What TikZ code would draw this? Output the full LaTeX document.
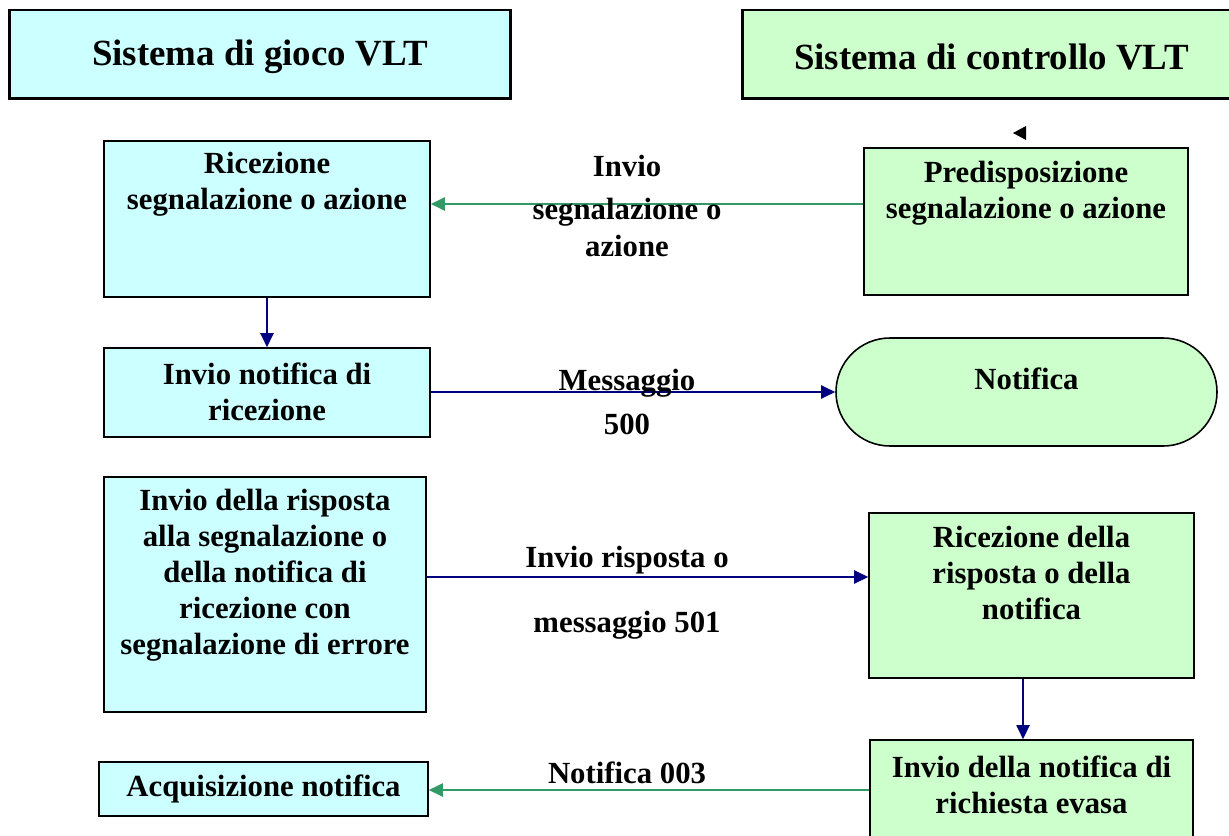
\documentclass[tikz,border=0pt]{standalone}
\usepackage{fontspec}
\setmainfont{Liberation Serif}
\usetikzlibrary{arrows.meta,positioning,fit}
\definecolor{vltcyan}{HTML}{CCFFFF}
\definecolor{vltgreen}{HTML}{CCFFCC}
\definecolor{msgblue}{HTML}{000080}
\definecolor{msggreen}{HTML}{339966}
\begin{document}
\begin{tikzpicture}[x=0.02cm, y=-0.02cm,
  gbox/.style={draw, line width=0.9pt, fill=vltcyan, inner sep=0pt},
  cbox/.style={draw, line width=0.9pt, fill=vltgreen, inner sep=0pt},
  head/.style={inner sep=0pt, font=\bfseries\fontsize{21}{25}\selectfont},
  txt/.style={inner sep=0pt, align=center, font=\bfseries\fontsize{17.5}{20.5}\selectfont},
  toblue/.style={draw=msgblue, line width=0.9pt, -{Triangle[length=8pt,width=7.5pt]}},
  togreen/.style={draw=msggreen, line width=0.9pt, -{Triangle[length=8pt,width=7.5pt]}}]
  \useasboundingbox (0,0) rectangle (1229,835);
  \node[gbox, line width=0.6pt, fit={(10,10) (510,98)}] (gioco) {};
  \draw[line width=1.6pt] (gioco.north west) -- (gioco.south west) -- (gioco.south east) -- (gioco.north east);
  \node[head, below=1.6pt of gioco.center, anchor=center] (giocoT) {Sistema di gioco VLT};
  \node[cbox, line width=0.6pt, fit={(743,10) (1240,98)}] (controllo) {};
  \draw[line width=1.6pt] (controllo.north west) -- (controllo.south west) -- (controllo.south east);
  \node[head, below=1.6pt of controllo.center, anchor=center] (controlloT) {Sistema di controllo VLT};
  \fill (1026,126) -- (1013,133) -- (1026,140) -- cycle;

  \node[gbox, fit={(104,141) (430,297)}] (ric) {};
  \node[txt, below=6.8pt of ric.north] (ricT) {Ricezione\\segnalazione o azione};
  \node[cbox, fit={(864,148) (1188,295)}] (pred) {};
  \node[txt, below=7.9pt of pred.north] (predT) {Predisposizione\\segnalazione o azione};
  \node[gbox, fit={(104,348) (430,437)}] (notr) {};
  \node[txt, below=8.5pt of notr.north] (notrT) {Invio notifica di\\ricezione};
  \node[cbox, fit={(836,338) (1217,446)}, rounded corners=1.08cm] (notif) {};
  \node[txt, below=17pt of notif.north] (notifT) {Notifica};
  \node[gbox, fit={(104,477) (426,712)}] (risp) {};
  \node[txt, below=7.4pt of risp.north] (rispT) {Invio della risposta\\alla segnalazione o\\della notifica di\\ricezione con\\segnalazione di errore};
  \node[cbox, fit={(869,513) (1194,678)}] (ricd) {};
  \node[txt, below=7.9pt of ricd.north] (ricdT) {Ricezione della\\risposta o della\\notifica};
  \node[cbox, fit={(870,740) (1193,850)}] (evasa) {};
  \node[txt, below=9pt of evasa.north] (evasaT) {Invio della notifica di\\richiesta evasa};
  \node[gbox, fit={(99,762) (428,816)}] (acq) {};
  \node[txt, below=7.4pt of acq.north] (acqT) {Acquisizione notifica};

  \draw[togreen] (pred.west |- 0,204) -- (ric.east |- 0,204);
  \node[txt, anchor=base] (invio) at (627,256) {Invio\\[4pt]segnalazione o\\azione};
  \draw[toblue] (ric.south) -- (notr.north);
  \draw[toblue] (notr.east |- notif.west) -- (notif.west);
  \node[txt, anchor=base] (m500) at (627,434) {Messaggio\\[4.5pt]500};
  \draw[toblue] (risp.east |- 0,577) -- (ricd.west |- 0,577);
  \node[txt, anchor=base] (m501) at (627,632) {Invio risposta o\\[16pt]messaggio 501};
  \draw[toblue] (ricd.south -| 1023,0) -- (evasa.north -| 1023,0);
  \draw[togreen] (evasa.west |- 0,790) -- (acq.east |- 0,790);
  \node[txt, anchor=base] (n003) at (627,783) {Notifica 003};
\end{tikzpicture}
\end{document}
